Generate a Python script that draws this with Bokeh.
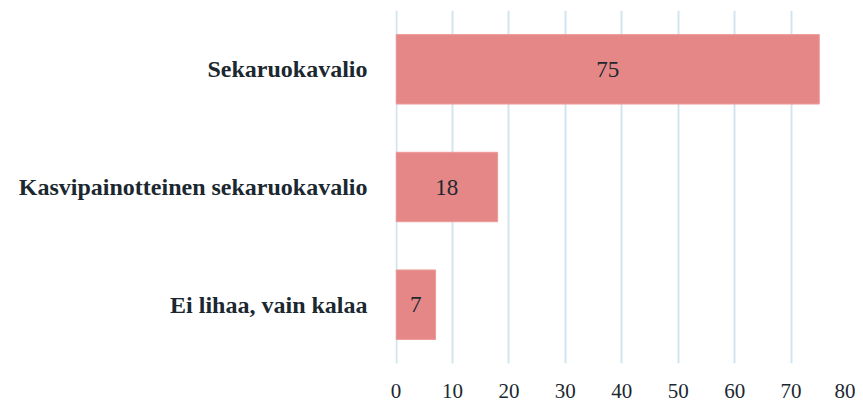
from bokeh.plotting import figure
from bokeh.models import ColumnDataSource, FactorRange, Range1d, FixedTicker, LabelSet
from bokeh.embed import file_html
from bokeh.resources import INLINE

categories = ["Sekaruokavalio", "Kasvipainotteinen sekaruokavalio", "Ei lihaa, vain kalaa"]
values = [75, 18, 7]
labels = [str(v) for v in values]
x_ticks = [0, 10, 20, 30, 40, 50, 60, 70, 80]

FONT = "Liberation Serif"
TEXT = "#1b2830"

src = ColumnDataSource(dict(cat=categories, val=values, lbl=labels,
                            mid=[v / 2 for v in values]))

p = figure(width=855, height=404, output_backend="svg", toolbar_location=None,
           y_range=FactorRange(factors=list(reversed(categories)), range_padding=0),
           x_range=Range1d(-0.1, 80))
p.min_border_left = 395
p.min_border_right = 8
p.min_border_top = 10
p.min_border_bottom = 41
p.outline_line_color = None

p.hbar(y="cat", right="val", left=0, height=0.59, source=src,
       fill_color="#E68787", line_color="#EC9A9A", line_width=1)

p.add_layout(LabelSet(x="mid", y="cat", text="lbl", source=src,
                      text_align="center", text_baseline="middle",
                      text_font=FONT, text_font_size="23px", text_color=TEXT))

p.xaxis.ticker = FixedTicker(ticks=x_ticks)
p.xaxis.axis_line_color = None
p.xaxis.major_tick_line_color = None
p.xaxis.minor_tick_line_color = None
p.xaxis.major_label_text_font = FONT
p.xaxis.major_label_text_font_size = "21px"
p.xaxis.major_label_text_color = TEXT
p.xaxis.major_label_standoff = 14

p.yaxis.axis_line_color = None
p.yaxis.major_tick_line_color = None
p.yaxis.minor_tick_line_color = None
p.yaxis.major_label_text_font = FONT
p.yaxis.major_label_text_font_style = "bold"
p.yaxis.major_label_text_font_size = "24px"
p.yaxis.major_label_text_color = TEXT
p.yaxis.major_label_standoff = 22

p.ygrid.grid_line_color = None
p.xgrid.grid_line_color = "#D2E4EF"
p.xgrid.grid_line_width = 2

open("out.html", "w").write(file_html(p, INLINE))
